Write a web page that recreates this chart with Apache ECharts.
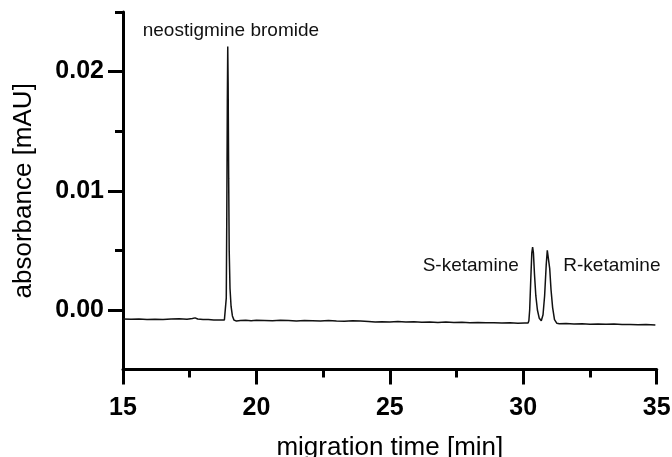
<!DOCTYPE html>
<html>
<head>
<meta charset="utf-8">
<script src="https://cdn.jsdelivr.net/npm/echarts@6/dist/echarts.min.js"></script>
<style>
html,body{margin:0;padding:0;background:#fff;}
#chart{width:672px;height:457px;}
</style>
</head>
<body>
<div id="chart"></div>
<script>
// migration time [min]
var migrationTime = [
  15.00, 15.30, 15.60, 15.90, 16.20, 16.50, 16.80, 17.10, 17.40, 17.60, 17.70, 17.80,
  18.00, 18.20, 18.40, 18.60, 18.80,
  18.85, 18.87, 18.89, 18.91, 18.925, 18.94, 18.96, 18.98, 19.01, 19.05, 19.10, 19.16,
  19.25, 19.40, 19.60, 19.80, 20.00, 20.30, 20.60, 20.90, 21.20, 21.50, 21.80, 22.10,
  22.40, 22.70, 23.00, 23.30, 23.60, 23.90, 24.20, 24.45, 24.70, 25.00, 25.30, 25.60,
  25.90, 26.20, 26.50, 26.80, 27.10, 27.40, 27.70, 28.00, 28.30, 28.60, 28.90, 29.20,
  29.50, 29.80, 30.05, 30.18,
  30.21, 30.24, 30.28, 30.32, 30.35, 30.38, 30.42, 30.47, 30.53, 30.60, 30.675,
  30.74, 30.80, 30.86, 30.90, 30.925, 30.95, 30.99, 31.04, 31.10, 31.17, 31.26,
  31.35, 31.60, 31.90, 32.20, 32.50, 32.80, 33.10, 33.40, 33.70, 34.00, 34.30, 34.60, 34.95
];
// absorbance [mAU]
var absorbance = [
  -0.00076, -0.00078, -0.00075, -0.00079, -0.00077, -0.00080, -0.00076, -0.00074, -0.00078, -0.00072, -0.00066, -0.00076,
  -0.00080, -0.00079, -0.00083, -0.00084, -0.00083,
  -0.00070, 0.0010, 0.0080, 0.0175, 0.0221, 0.0190, 0.0110, 0.0050, 0.0018, 0.0003, -0.0005, -0.00085,
  -0.00092, -0.00089, -0.00087, -0.00090, -0.00086, -0.00088, -0.00091, -0.00087, -0.00089, -0.00092, -0.00088, -0.00090,
  -0.00093, -0.00089, -0.00092, -0.00094, -0.00091, -0.00093, -0.00096, -0.00101, -0.00098, -0.00100, -0.00097, -0.00101,
  -0.00099, -0.00102, -0.00100, -0.00104, -0.00101, -0.00105, -0.00103, -0.00106, -0.00104, -0.00108, -0.00106, -0.00110,
  -0.00108, -0.00112, -0.00110, -0.00110,
  -0.0009, 0.0000, 0.0025, 0.0048, 0.00527, 0.0048, 0.0030, 0.0012, 0.0000, -0.0007, -0.0009,
  -0.0004, 0.0012, 0.0038, 0.0050, 0.0051, 0.0049, 0.0035, 0.0017, 0.0002, -0.0008, -0.00112,
  -0.00116, -0.00114, -0.00117, -0.00115, -0.00119, -0.00117, -0.00120, -0.00118, -0.00122, -0.00121, -0.00124, -0.00122, -0.00126
];
var yMajorTicks = [0, 0.01, 0.02];
var yMinorTicks = [0.005, 0.015, 0.025];
var peakLabels = ['neostigmine bromide', 'S-ketamine', 'R-ketamine'];

var seriesData = migrationTime.map(function (t, i) { return [t, absorbance[i]]; });
var FONT = '"Liberation Sans", Arial, Helvetica, sans-serif';

var chart = echarts.init(document.getElementById('chart'), null, {renderer: 'canvas'});
var axisLineStyle = {color: '#000', width: 3};
chart.setOption({
  animation: false,
  backgroundColor: '#fff',
  textStyle: {fontFamily: FONT},
  grid: {left: 123, right: 15.3, top: 12, bottom: 87.4, containLabel: false, outerBoundsMode: 'none'},
  xAxis: {
    type: 'value', min: 15, max: 35, interval: 5,
    axisLine: {show: true, onZero: false, lineStyle: axisLineStyle},
    axisTick: {show: true, length: 15, lineStyle: axisLineStyle},
    minorTick: {show: true, splitNumber: 2, length: 8, lineStyle: axisLineStyle},
    axisLabel: {fontSize: 25, fontWeight: 'bold', color: '#000', margin: 26, fontFamily: FONT},
    splitLine: {show: false},
    name: 'migration time [min]', nameLocation: 'middle', nameGap: 65,
    nameTextStyle: {fontSize: 26, color: '#000', fontFamily: FONT}
  },
  yAxis: [{
    type: 'value', min: -0.005, max: 0.025, interval: 0.005,
    axisLine: {show: true, onZero: false, lineStyle: axisLineStyle},
    axisTick: {show: true, length: 15, lineStyle: axisLineStyle, customValues: yMajorTicks},
    axisLabel: {customValues: yMajorTicks, fontSize: 25, fontWeight: 'bold', color: '#000', margin: 19, fontFamily: FONT,
      formatter: function (v) { return v.toFixed(2); }},
    splitLine: {show: false},
    name: 'absorbance [mAU]', nameLocation: 'middle', nameGap: 86,
    nameTextStyle: {fontSize: 26, color: '#000', fontFamily: FONT}
  }, {
    type: 'value', min: -0.005, max: 0.025, interval: 0.005, position: 'left', offset: 0,
    axisLine: {show: false, onZero: false},
    axisTick: {show: true, length: 8, lineStyle: axisLineStyle, customValues: yMinorTicks},
    axisLabel: {show: false},
    splitLine: {show: false}
  }],
  series: [{
    type: 'line', data: seriesData, showSymbol: false, symbol: 'none',
    lineStyle: {color: '#111', width: 1.5}, xAxisIndex: 0, yAxisIndex: 0, z: 1
  }],
  graphic: [
    {type: 'text', x: 142.7, y: 31, style: {text: peakLabels[0], fontSize: 19, fontFamily: FONT, fill: '#111', align: 'left', verticalAlign: 'middle'}},
    {type: 'text', x: 422.7, y: 265.7, style: {text: peakLabels[1], fontSize: 19, fontFamily: FONT, fill: '#111', align: 'left', verticalAlign: 'middle'}},
    {type: 'text', x: 563.3, y: 265.7, style: {text: peakLabels[2], fontSize: 19, fontFamily: FONT, fill: '#111', align: 'left', verticalAlign: 'middle'}}
  ]
});
</script>
</body>
</html>
